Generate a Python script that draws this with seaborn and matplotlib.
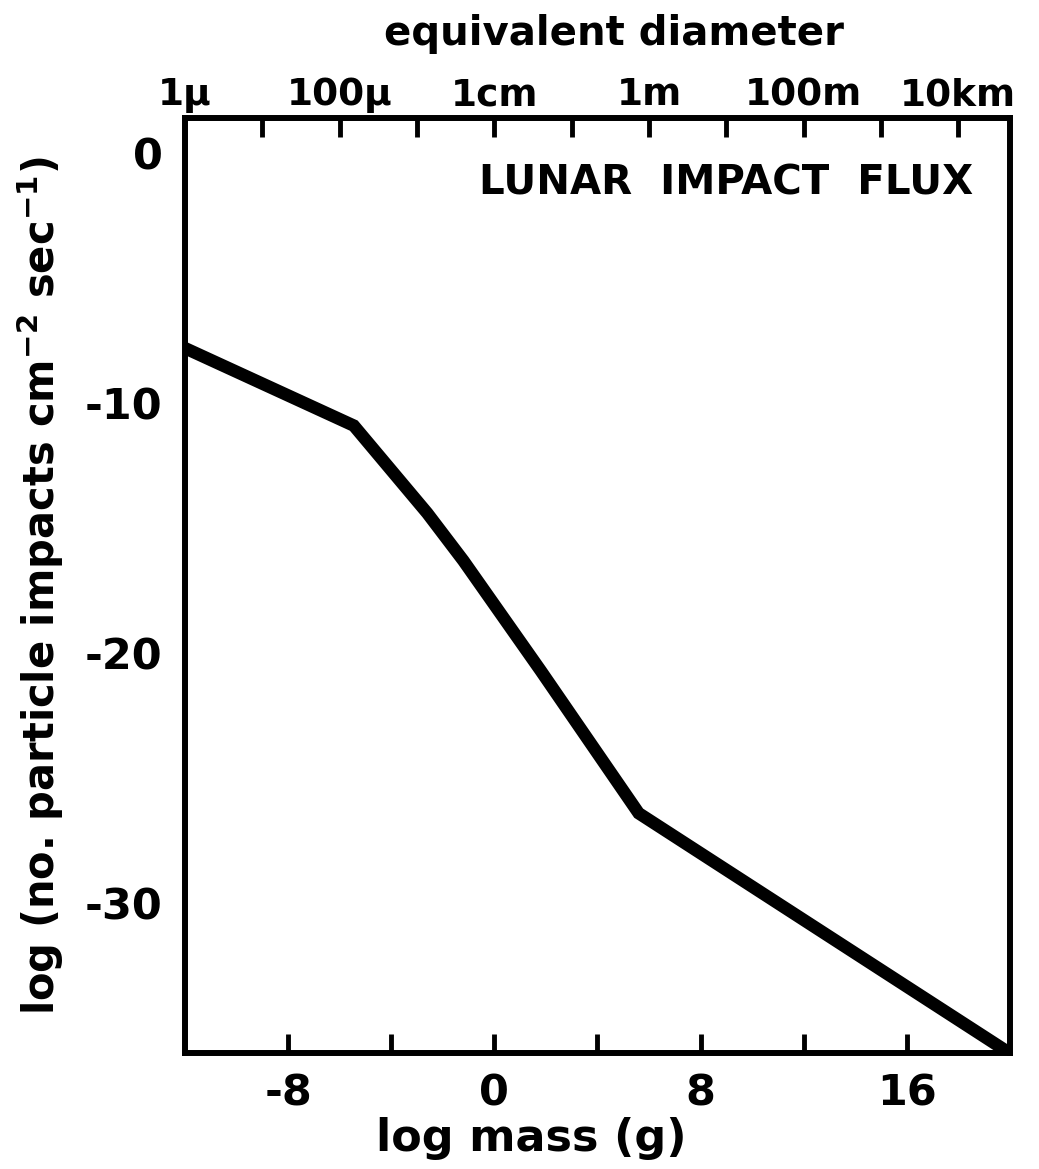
import matplotlib
matplotlib.use("Agg")
import matplotlib.pyplot as plt
import seaborn as sns
import pandas as pd

# ---- data ----
log_mass = [-12.0, -5.45, -2.6, -1.2, 1.8, 5.6, 20.0]
log_flux = [-7.8, -10.9, -14.4, -16.3, -20.7, -26.4, -36.0]

bottom_ticks = [-8, -4, 0, 4, 8, 12, 16]
bottom_labels = ["-8", "", "0", "", "8", "", "16"]
y_ticks = [0, -10, -20, -30]
y_labels = ["0", "-10", "-20", "-30"]
top_ticks = [-9, -6, -3, 0, 3, 6, 9, 12, 15, 18]
top_label_pos = [-12, -6, 0, 6, 12, 18]
top_label_txt = ["1μ", "100μ", "1cm", "1m", "100m", "10km"]

title_txt = "LUNAR  IMPACT  FLUX"
xlabel_txt = "log mass (g)"
toplabel_txt = "equivalent diameter"
ylabel_txt = r"log (no. particle impacts cm$^{-2}$ sec$^{-1}$)"

sns.set_theme(style="white")
plt.rcParams["font.family"] = ["DejaVu Sans"]
plt.rcParams["font.weight"] = "bold"
plt.rcParams["mathtext.default"] = "bf"
plt.rcParams["axes.unicode_minus"] = False
plt.rcParams["text.color"] = "black"
plt.rcParams["axes.labelcolor"] = "black"
plt.rcParams["xtick.color"] = "black"
plt.rcParams["ytick.color"] = "black"

fig = plt.figure(figsize=(10.39, 11.69), dpi=100)
ax = fig.add_axes([0.178, 0.099, 0.794, 0.800])

df = pd.DataFrame({"log_mass": log_mass, "log_flux": log_flux})
sns.lineplot(data=df, x="log_mass", y="log_flux", color="black",
             linewidth=9, sort=False, ax=ax, solid_joinstyle="miter")

ax.set_xlim(-12, 20)
ax.set_ylim(-36, 1.4)

for s in ax.spines.values():
    s.set_linewidth(4.3)
    s.set_color("black")

ax.set_xticks(bottom_ticks)
ax.set_xticklabels(bottom_labels, fontsize=31, fontweight="bold")
ax.tick_params(axis="x", direction="in", length=14, width=3.5,
               color="black", labelcolor="black", pad=14)
ax.set_yticks(y_ticks)
ax.set_yticklabels(y_labels, fontsize=31, fontweight="bold")
ax.tick_params(axis="y", length=0, pad=16, labelcolor="black")

ax.set_xlabel(xlabel_txt, fontsize=32, fontweight="bold", labelpad=4,
              color="black")
ax.xaxis.set_label_coords(0.42, -0.068)
ax.set_ylabel(ylabel_txt, fontsize=30, fontweight="bold", labelpad=14,
              color="black")

# top axis
top = ax.twiny()
top.set_xlim(ax.get_xlim())
for s in top.spines.values():
    s.set_visible(False)
top.set_xticks(top_ticks)
top.set_xticklabels([])
top.tick_params(axis="x", direction="in", length=14, width=3.5,
                color="black", top=True, bottom=False)
for p, t in zip(top_label_pos, top_label_txt):
    top.text(p, 1.005, t, transform=top.get_xaxis_transform(),
             ha="center", va="bottom", fontsize=27, fontweight="bold",
             color="black")
top.text(0.52, 1.068, toplabel_txt, transform=top.transAxes,
         ha="center", va="bottom", fontsize=29, fontweight="bold",
         color="black")

ax.text(0.955, 0.93, title_txt, transform=ax.transAxes, ha="right",
        va="center", fontsize=29, fontweight="bold", color="black")

fig.savefig("out.png", dpi=100)
